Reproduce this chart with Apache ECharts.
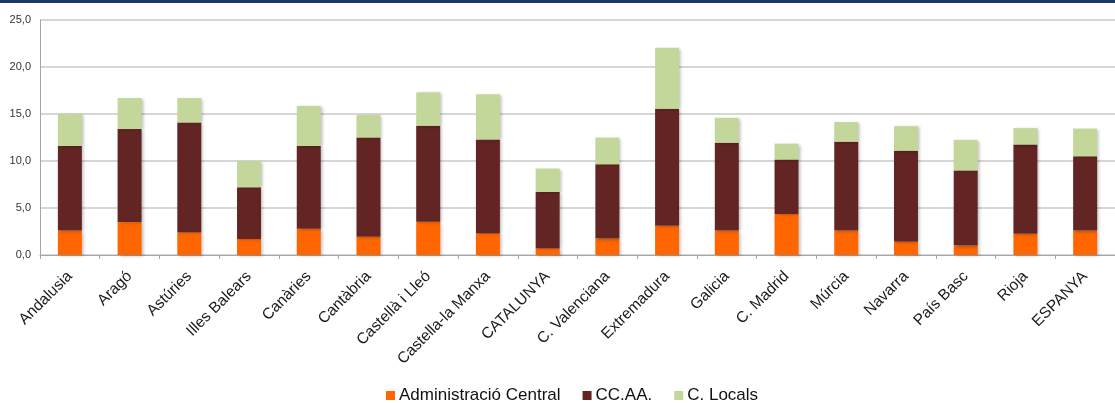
<!DOCTYPE html>
<html>
<head>
    <meta charset="utf-8">
    <title>Despesa per administracions</title>
    <script src="https://cdn.jsdelivr.net/npm/echarts@6/dist/echarts.min.js"></script>
    <style>
        html, body { margin: 0; padding: 0; background: #fff; }
    </style>
</head>
<body>
<div id="main" style="width: 1115px;height:403px;"></div>

<script type="text/javascript">
    // comunitats
    var categories = ['Andalusia', 'Aragó', 'Astúries', 'Illes Balears', 'Canàries', 'Cantàbria',
        'Castellà i Lleó', 'Castella-la Manxa', 'CATALUNYA', 'C. Valenciana', 'Extremadura',
        'Galicia', 'C. Madrid', 'Múrcia', 'Navarra', 'País Basc', 'Rioja', 'ESPANYA'];

    var adminCentral = [2.6, 3.5, 2.4, 1.7, 2.8, 1.95, 3.55, 2.3, 0.7, 1.75, 3.1,
        2.6, 4.35, 2.6, 1.4, 1.0, 2.25, 2.6];
    var ccaa = [9.0, 9.9, 11.7, 5.5, 8.8, 10.55, 10.2, 10.0, 6.0, 7.9, 12.45,
        9.35, 5.8, 9.45, 9.7, 8.0, 9.5, 7.9];
    var locals = [3.4, 3.3, 2.6, 2.8, 4.25, 2.4, 3.55, 4.8, 2.5, 2.85, 6.5,
        2.65, 1.7, 2.1, 2.6, 3.25, 1.75, 2.95];

    var seriesNames = ['Administració Central', 'CC.AA.', 'C. Locals'];
    var seriesColors = ['#ff6600', '#632523', '#c4d79b'];

    var myChart = echarts.init(document.getElementById('main'));

    var barStyle = function (c) {
        return {
            color: c,
            shadowBlur: 3,
            shadowColor: 'rgba(0,0,0,0.25)',
            shadowOffsetX: 2,
            shadowOffsetY: 1
        };
    };

    myChart.setOption({
        animation: false,
        textStyle: { fontFamily: 'Liberation Sans, Arial, sans-serif' },
        graphic: [{
            type: 'rect',
            left: 0, top: 0,
            shape: { width: 1115, height: 3 },
            style: { fill: '#1c3864' }
        }],
        grid: { left: 40, right: -8, top: 20, bottom: 148 },
        legend: {
            top: 387,
            left: 386,
            padding: 0,
            itemWidth: 9,
            itemHeight: 9,
            itemGap: 22,
            icon: 'rect',
            textStyle: { fontSize: 17, color: '#111', padding: [0, 0, 0, -1] },
            data: seriesNames
        },
        xAxis: {
            type: 'category',
            data: categories,
            axisLine: { lineStyle: { color: '#a6a6a6', width: 1 } },
            axisTick: { show: true, alignWithLabel: false, length: 4, lineStyle: { color: '#a6a6a6' } },
            axisLabel: { interval: 0, rotate: 45, fontSize: 15.5, color: '#1a1a1a', margin: 19 }
        },
        yAxis: {
            type: 'value',
            min: 0,
            max: 25,
            interval: 5,
            axisLine: { show: true, lineStyle: { color: '#a6a6a6' } },
            axisTick: { show: false },
            splitLine: { lineStyle: { color: '#c8c8c8', width: 1.5 } },
            axisLabel: {
                fontSize: 11,
                color: '#333',
                margin: 9,
                formatter: function (v) { return v.toFixed(1).replace('.', ','); }
            }
        },
        series: [
            { name: seriesNames[0], type: 'bar', stack: 'total', barWidth: 24, data: adminCentral, itemStyle: barStyle(seriesColors[0]) },
            { name: seriesNames[1], type: 'bar', stack: 'total', barWidth: 24, data: ccaa, itemStyle: barStyle(seriesColors[1]) },
            { name: seriesNames[2], type: 'bar', stack: 'total', barWidth: 24, data: locals, itemStyle: barStyle(seriesColors[2]) }
        ]
    });
</script>

</body>
</html>
